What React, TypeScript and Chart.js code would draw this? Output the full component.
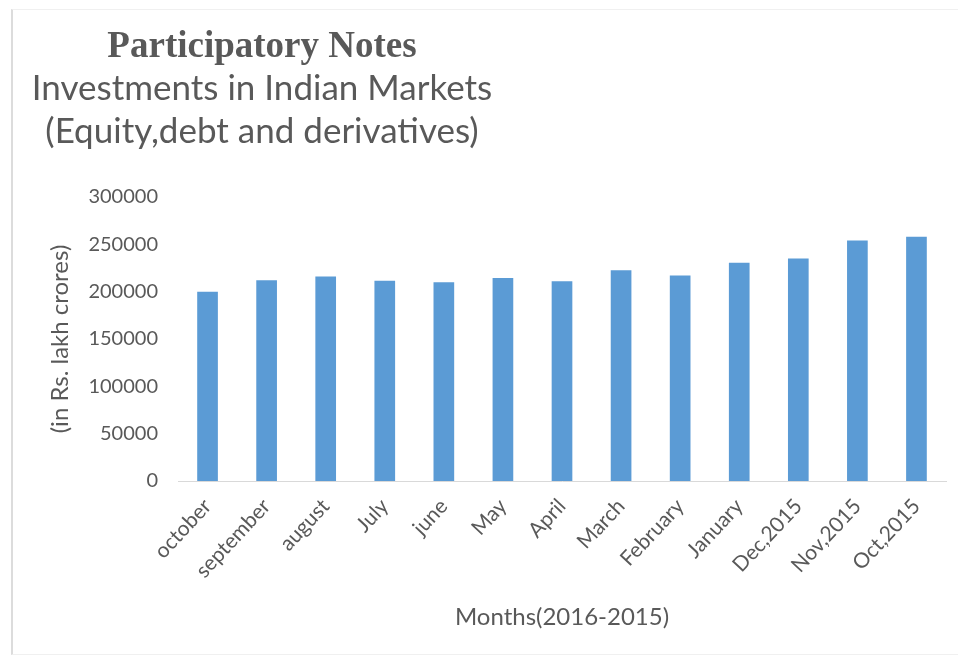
import React, { useEffect, useRef } from "react";
import { Chart, registerables } from "chart.js";

Chart.register(...registerables);

const categories = [
  "october",
  "september",
  "august",
  "July",
  "june",
  "May",
  "April",
  "March",
  "February",
  "January",
  "Dec,2015",
  "Nov,2015",
  "Oct,2015",
];
const values = [
  200000, 212000, 216000, 211500, 210000, 214500, 211000, 222500, 217000, 230500, 235000, 254000, 258000,
];
const yTicks = [0, 50000, 100000, 150000, 200000, 250000, 300000];
const titleLines = ["Participatory Notes", "Investments in Indian Markets", "(Equity,debt and derivatives)"];
const yAxisTitle = "(in Rs. lakh crores)";
const xAxisTitle = "Months(2016-2015)";

const TEXT = "#595959";
const BAR = "#5B9BD5";
const SANS = "Lato";

const titlePlugin = {
  id: "multiTitle",
  afterDraw(chart: any) {
    const ctx = chart.ctx as CanvasRenderingContext2D;
    ctx.save();
    ctx.fillStyle = TEXT;
    ctx.textAlign = "center";
    ctx.textBaseline = "alphabetic";
    ctx.font = 'bold 37px "Liberation Serif"';
    ctx.fillText(titleLines[0], 262, 57);
    ctx.font = `35px ${SANS}`;
    ctx.fillText(titleLines[1], 262, 100);
    ctx.fillText(titleLines[2], 262, 143);
    ctx.restore();
  },
};

export default function App() {
  const canvasRef = useRef<HTMLCanvasElement | null>(null);

  useEffect(() => {
    if (!canvasRef.current) return;
    const chart = new Chart(canvasRef.current, {
      type: "bar",
      data: {
        labels: categories,
        datasets: [
          {
            data: values,
            backgroundColor: BAR,
            borderWidth: 0,
            categoryPercentage: 1,
            barPercentage: 0.35,
          },
        ],
      },
      options: {
        responsive: false,
        animation: false,
        devicePixelRatio: 1,
        layout: { padding: { top: 197, right: 12, bottom: 0, left: 0 } },
        plugins: {
          legend: { display: false },
          title: { display: false },
          tooltip: { enabled: false },
        },
        scales: {
          x: {
            grid: { display: false, drawTicks: false },
            border: { display: true, color: "#d9d9d9", width: 1 },
            ticks: {
              color: TEXT,
              font: { family: SANS, size: 21 },
              minRotation: 47,
              maxRotation: 47,
              padding: 13,
              autoSkip: false,
            },
            title: {
              display: true,
              text: xAxisTitle,
              color: TEXT,
              font: { family: SANS, size: 24 },
              padding: { top: 0, bottom: 30 },
            },
            afterFit(scale: any) {
              scale.height = 181;
            },
          },
          y: {
            min: yTicks[0],
            max: yTicks[yTicks.length - 1],
            grid: { display: false, drawTicks: false },
            border: { display: false },
            ticks: {
              stepSize: yTicks[1] - yTicks[0],
              color: TEXT,
              font: { family: SANS, size: 20 },
              padding: 20,
              callback: (v: any) => String(v),
            },
            title: {
              display: true,
              text: yAxisTitle,
              color: TEXT,
              font: { family: SANS, size: 24 },
              padding: { top: 46, bottom: 0 },
            },
            afterFit(scale: any) {
              scale.width = 178;
            },
          },
        },
      },
      plugins: [titlePlugin],
    });
    return () => chart.destroy();
  }, []);

  return (
    <div style={{ position: "absolute", left: 0, top: 0, width: 958, height: 662, background: "#fff" }}>
      <canvas ref={canvasRef} width={958} height={662} style={{ display: "block" }} />
      <div
        style={{
          position: "absolute",
          left: 11,
          top: 9,
          width: 947,
          height: 646,
          borderLeft: "2px solid #dcdcdc",
          borderTop: "1px solid #f0f0f0",
          borderBottom: "1px solid #f0f0f0",
          boxSizing: "border-box",
          pointerEvents: "none",
        }}
      />
    </div>
  );
}
